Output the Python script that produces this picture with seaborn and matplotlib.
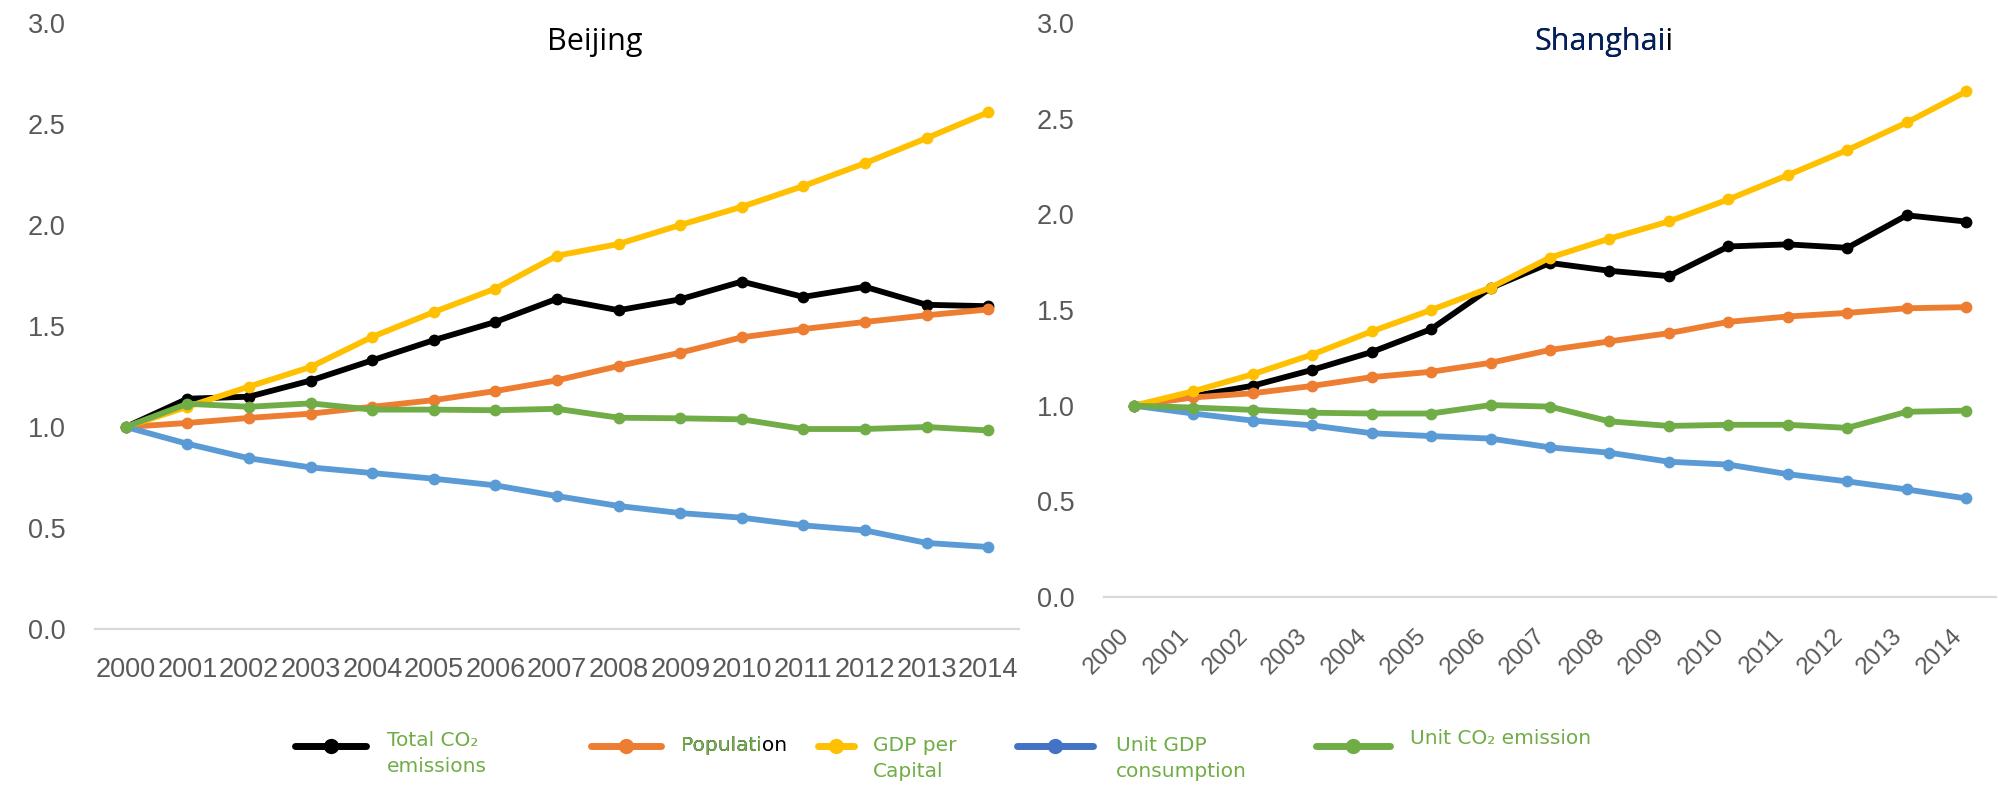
import matplotlib
matplotlib.use("Agg")
import matplotlib.pyplot as plt
from matplotlib.lines import Line2D
from matplotlib.ticker import FormatStrFormatter
import pandas as pd
import seaborn as sns

years = [str(y) for y in range(2000, 2015)]
series = ["Total CO2", "Population", "GDP per Capital", "Unit GDP consumption", "Unit CO2 emission"]
colors = {
    "Total CO2": "#000000",
    "Population": "#ED7D31",
    "GDP per Capital": "#FFC000",
    "Unit GDP consumption": "#5B9BD5",
    "Unit CO2 emission": "#70AD47",
}

# Beijing (index, 2000 = 1.0)
bj_total_co2 = [1.00, 1.14, 1.15, 1.23, 1.33, 1.43, 1.52, 1.635, 1.578, 1.632, 1.72, 1.644, 1.694, 1.605, 1.598]
bj_population = [1.00, 1.02, 1.045, 1.066, 1.10, 1.133, 1.178, 1.231, 1.302, 1.368, 1.444, 1.485, 1.52, 1.553, 1.582]
bj_gdp_pc = [1.00, 1.10, 1.20, 1.297, 1.446, 1.569, 1.685, 1.848, 1.906, 2.00, 2.09, 2.193, 2.306, 2.43, 2.558]
bj_unit_gdp = [1.00, 0.917, 0.845, 0.80, 0.772, 0.744, 0.711, 0.658, 0.609, 0.574, 0.551, 0.513, 0.488, 0.426, 0.406]
bj_unit_co2 = [1.00, 1.115, 1.10, 1.117, 1.086, 1.086, 1.083, 1.09, 1.046, 1.043, 1.038, 0.99, 0.99, 1.00, 0.983]

# Shanghai
sh_total_co2 = [1.00, 1.05, 1.104, 1.187, 1.28, 1.40, 1.615, 1.746, 1.705, 1.677, 1.832, 1.843, 1.825, 1.995, 1.962]
sh_population = [1.00, 1.043, 1.065, 1.103, 1.149, 1.177, 1.224, 1.291, 1.336, 1.379, 1.438, 1.466, 1.485, 1.509, 1.515]
sh_gdp_pc = [1.00, 1.075, 1.164, 1.267, 1.388, 1.50, 1.617, 1.774, 1.873, 1.963, 2.078, 2.205, 2.336, 2.48, 2.642]
sh_unit_gdp = [1.00, 0.959, 0.922, 0.897, 0.856, 0.841, 0.828, 0.782, 0.754, 0.707, 0.692, 0.642, 0.604, 0.562, 0.515]
sh_unit_co2 = [1.00, 0.99, 0.978, 0.963, 0.959, 0.959, 1.003, 0.995, 0.918, 0.894, 0.90, 0.90, 0.884, 0.968, 0.974]


def long_form(values):
    rows = []
    for name, vals in zip(series, values):
        for y, v in zip(years, vals):
            rows.append({"year": y, "series": name, "value": v})
    return pd.DataFrame(rows)


beijing = long_form([bj_total_co2, bj_population, bj_gdp_pc, bj_unit_gdp, bj_unit_co2])
shanghai = long_form([sh_total_co2, sh_population, sh_gdp_pc, sh_unit_gdp, sh_unit_co2])

sns.set_theme(style="white")
plt.rcParams["font.family"] = ["Liberation Sans", "DejaVu Sans"]

TICK = "#595959"
GREEN_TXT = "#70AD47"
W, H = 1998, 792

fig = plt.figure(figsize=(W / 100, H / 100), dpi=100)
ax_bj = fig.add_axes([95 / W, 163 / H, 924 / W, 606 / H])
ax_sh = fig.add_axes([1104 / W, 195 / H, 892 / W, 574 / H])

for ax, df in [(ax_bj, beijing), (ax_sh, shanghai)]:
    sns.lineplot(
        data=df, x="year", y="value", hue="series", hue_order=series,
        palette=colors, marker="o", markersize=8.5, markeredgewidth=0,
        linewidth=4.2, sort=False, legend=False, ax=ax,
    )
    ax.set_xlim(-0.5, 14.5)
    ax.set_ylim(0, 3)
    ax.set_yticks([0, 0.5, 1, 1.5, 2, 2.5, 3])
    ax.yaxis.set_major_formatter(FormatStrFormatter("%.1f"))
    ax.set_xlabel("")
    ax.set_ylabel("")
    for s in ["top", "right", "left"]:
        ax.spines[s].set_visible(False)
    ax.spines["bottom"].set_color("#D9D9D9")
    ax.spines["bottom"].set_linewidth(1.6)
    ax.tick_params(axis="both", length=0, colors=TICK, labelsize=19.5)
    ax.tick_params(axis="y", pad=21)
    ax.tick_params(axis="x", pad=20)
    ax.set_facecolor("white")

ax_sh.tick_params(axis="x", labelsize=17.5)
for lab in ax_sh.get_xticklabels():
    lab.set_rotation(45)
    lab.set_ha("right")

# titles
title_font = ["Open Sans", "DejaVu Sans"]
ax_bj.text(0.541, 0.955, "Beijing", transform=ax_bj.transAxes, ha="center",
           va="baseline", fontsize=22, family=title_font, color="black")
t_full = ax_sh.text(0.5605, 0.953, "Shanghaii", transform=ax_sh.transAxes, ha="center",
                    va="baseline", fontsize=22, family=title_font, color="black")
fig.canvas.draw()
bb = t_full.get_window_extent()
x_left = ax_sh.transAxes.inverted().transform((bb.x0, bb.y0))[0]
ax_sh.text(x_left, 0.953, "Shanghai", transform=ax_sh.transAxes, ha="left",
           va="baseline", fontsize=22, family=title_font, color="#002060")

# legend: one entry per legend box, labels as separate texts
legend_colors = ["#000000", "#ED7D31", "#FFC000", "#4472C4", "#70AD47"]
handle_x = [295, 591, 818, 1017, 1316]
handle_len = [71, 70, 36, 76, 74]
label_x = [387, 681, 873, 1116, 1410]
label_top = [731, 736, 736, 736, 729]
labels = ["Total CO\u2082\nemissions", "Population", "GDP per\nCapital", "Unit GDP\nconsumption", "Unit CO\u2082 emission"]
leg_font = ["Liberation Sans Narrow", "DejaVu Sans"]
LEG_FS = 14.5

for c, hx, hl, lx, lt, lab in zip(legend_colors, handle_x, handle_len, label_x, label_top, labels):
    h = Line2D([], [], color=c, lw=5, marker="o", markersize=11, markeredgewidth=0)
    fig.legend(handles=[h], labels=[""], loc="center left",
               bbox_to_anchor=(hx / W, 1 - 748 / H), frameon=False,
               handlelength=hl / (16 * 100 / 72), fontsize=16, borderpad=0,
               borderaxespad=0, handletextpad=0)
    color = "black" if lab == "Population" else GREEN_TXT
    fig.text(lx / W, 1 - lt / H, lab, ha="left", va="top", fontsize=LEG_FS,
             family=leg_font, color=color, linespacing=1.47)
    if lab == "Population":
        fig.text(lx / W, 1 - lt / H, "Populati", ha="left", va="top", fontsize=LEG_FS,
                 family=leg_font, color=GREEN_TXT, linespacing=1.47)

fig.savefig("out.png", dpi=100, facecolor="white")
